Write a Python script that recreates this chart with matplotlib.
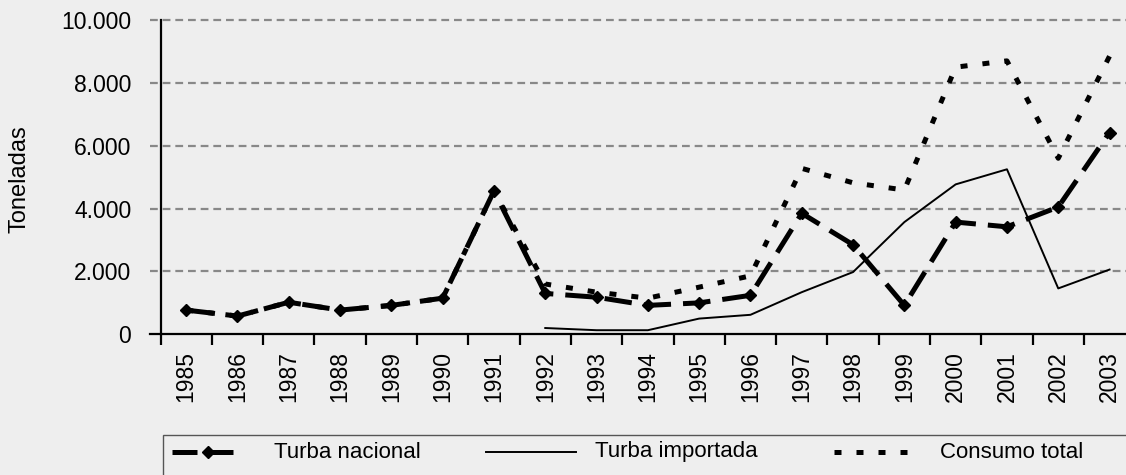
import matplotlib
matplotlib.use("Agg")
import matplotlib.pyplot as plt
from matplotlib.lines import Line2D
from matplotlib.patches import Rectangle
import numpy as np

years = [str(y) for y in range(1985, 2004)]
turba_nacional = [770, 580, 1020, 770, 920, 1150, 4560, 1300, 1180, 920, 1000,
                  1240, 3850, 2850, 920, 3570, 3420, 4050, 6420]
turba_importada = [None, None, None, None, None, None, None, 200, 130, 130, 500,
                   620, 1340, 1980, 3570, 4770, 5250, 1460, 2060]
consumo_total = [770, 580, 1020, 770, 920, 1150, 4560, 1600, 1340, 1150, 1500,
                 1860, 5280, 4820, 4590, 8500, 8700, 5600, 8850]
yticks = [0, 2000, 4000, 6000, 8000, 10000]
ytick_labels = ["0", "2.000", "4.000", "6.000", "8.000", "10.000"]
legend_labels = ["Turba nacional", "Turba importada", "Consumo total"]

plt.rcParams['font.family'] = ['Liberation Sans', 'DejaVu Sans']
BG = "#eeeeee"
W, H = 1126, 475
AX_L, AX_W = 160.5, 19 * 51.3
fig = plt.figure(figsize=(W / 100, H / 100), dpi=100, facecolor=BG)
ax = fig.add_axes([AX_L / W, (H - 334.3) / H, AX_W / W, 314.3 / H])
ax.set_facecolor(BG)

x = np.arange(len(years))
ax.set_xlim(-0.5, len(years) - 0.5)
ax.set_ylim(0, 10000)

# grid
ext = -11 / AX_W
for yv in yticks[1:]:
    ax.axhline(yv, xmin=ext, xmax=1, color="#888888", lw=1.6,
               dashes=(3.5, 2.2), clip_on=False, zorder=1)
ax.axhline(0, xmin=ext, xmax=1, color="black", lw=1.6, clip_on=False, zorder=5)

imp = np.array([np.nan if v is None else v for v in turba_importada], dtype=float)

ax.plot(x, consumo_total, color="black", lw=3.6, dashes=(1.4, 3.0),
        solid_capstyle="butt", dash_capstyle="butt", zorder=3)
ax.plot(x, imp, color="black", lw=1.4, zorder=3)
ax.plot(x, turba_nacional, color="black", lw=3.6, dashes=(5.5, 2.4),
        dash_capstyle="butt", marker="D", markersize=6.5, zorder=4)

for s in ["top", "right", "bottom"]:
    ax.spines[s].set_visible(False)
ax.spines["left"].set_linewidth(1.6)

ax.set_yticks(yticks)
ax.set_yticklabels(ytick_labels, fontsize=16.5)
ax.tick_params(axis="y", length=0, pad=21)

ax.set_xticks(x)
ax.set_xticklabels(years, rotation=90, fontsize=16.5)
ax.set_xticks(np.arange(len(years) + 1) - 0.5, minor=True)
ax.tick_params(axis="x", which="major", length=0, pad=12)
ax.tick_params(axis="x", which="minor", length=8, width=1.6, color="black")

fig.text(20 / W, 1 - 179 / H, "Toneladas", rotation=90, ha="center",
         va="center", fontsize=17)

# legend box
fig.patches.append(Rectangle((162.5 / W, -0.05), 1.0, (H - 435) / H + 0.05,
                             transform=fig.transFigure, facecolor=BG,
                             edgecolor="#555555", lw=1.0))
ly = 1 - 452 / H
fig.lines.append(Line2D([172 / W, 207.5 / W, 243 / W], [ly, ly, ly],
                        transform=fig.transFigure, color="black", lw=3.6,
                        dashes=(5, 2.2), marker="D", markersize=6.5, markevery=[1]))
fig.lines.append(Line2D([486 / W, 576 / W], [ly, ly], transform=fig.transFigure,
                        color="black", lw=1.4))
fig.lines.append(Line2D([834 / W, 909 / W], [ly, ly], transform=fig.transFigure,
                        color="black", lw=3.6, dashes=(1.4, 3.0)))
for tx, lab in zip([274, 595, 940], legend_labels):
    fig.text(tx / W, ly, lab, ha="left", va="center", fontsize=16)

fig.savefig("out.png", dpi=100, facecolor=BG)
